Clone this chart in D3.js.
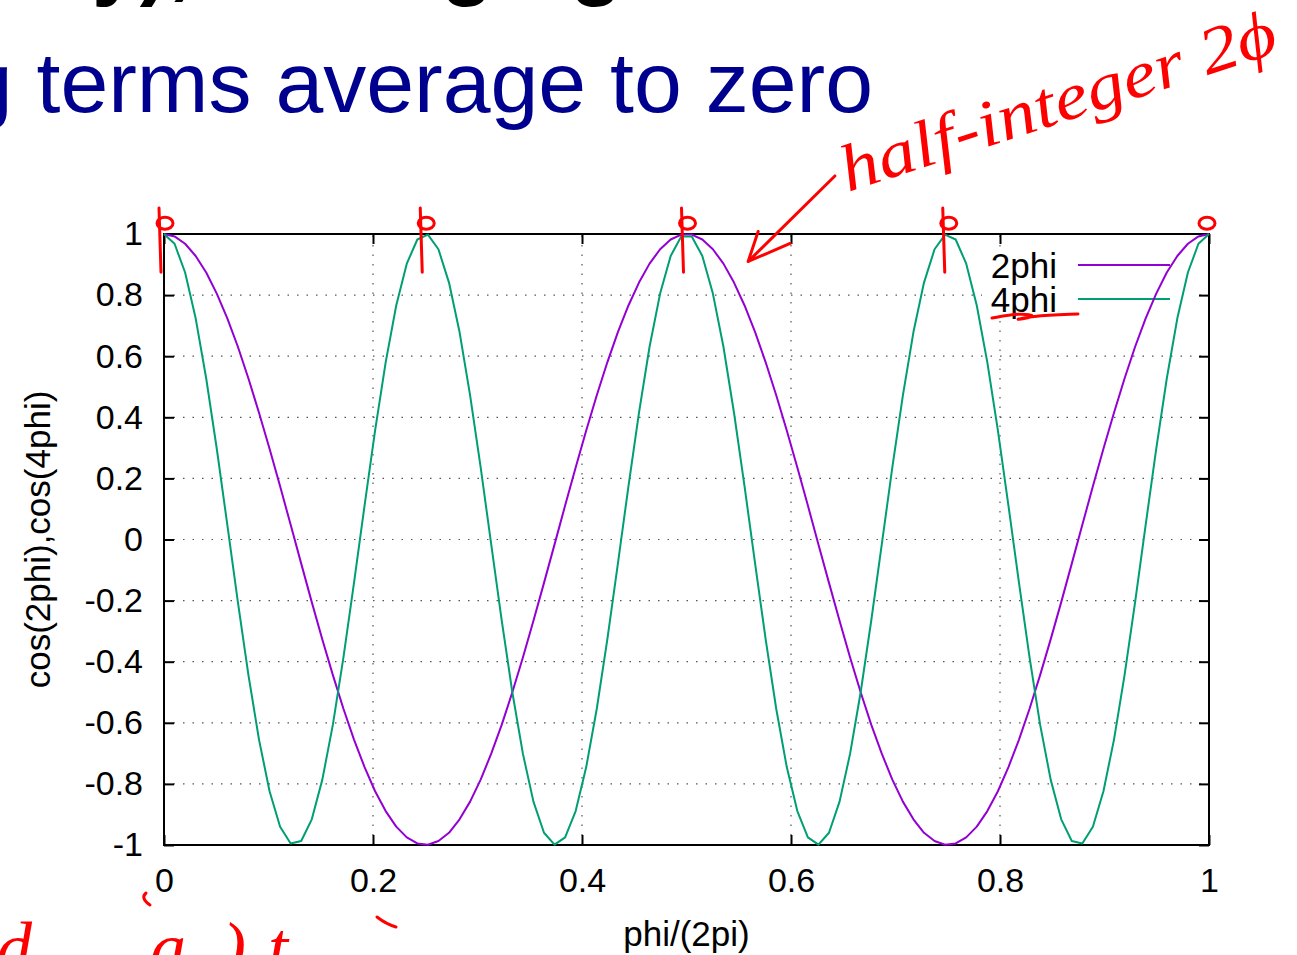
<!DOCTYPE html>
<html>
<head>
<meta charset="utf-8">
<script src="https://cdn.jsdelivr.net/npm/d3@7"></script>
<style>
  body { margin: 0; background: #fff; }
  svg { display: block; font-family: "Liberation Sans", Arial, Helvetica, sans-serif; }
</style>
</head>
<body>
<svg id="chart" width="1297" height="955"></svg>
<script>
// tick values
const xTicks = [0, 0.2, 0.4, 0.6, 0.8, 1];
const yTicks = [-1, -0.8, -0.6, -0.4, -0.2, 0, 0.2, 0.4, 0.6, 0.8, 1];

// gnuplot default sampling: 100 points over phi/(2pi) in [0,1]
const SAMPLES = 100;
const phiFrac = d3.range(SAMPLES).map(i => i / (SAMPLES - 1));

// cos(2phi)
const cos2phi = [
  1.000, 0.992, 0.968, 0.928, 0.874, 0.805, 0.724, 0.631, 0.527, 0.415,
  0.297, 0.174, 0.048, -0.079, -0.205, -0.327, -0.444, -0.554, -0.655, -0.745,
  -0.824, -0.889, -0.940, -0.975, -0.995, -0.999, -0.987, -0.960, -0.916, -0.858,
  -0.786, -0.701, -0.606, -0.500, -0.386, -0.266, -0.142, -0.016, 0.111, 0.236,
  0.357, 0.472, 0.580, 0.679, 0.766, 0.841, 0.903, 0.950, 0.982, 0.998,
  0.998, 0.982, 0.950, 0.903, 0.841, 0.766, 0.679, 0.580, 0.472, 0.357,
  0.236, 0.111, -0.016, -0.142, -0.266, -0.386, -0.500, -0.606, -0.701, -0.786,
  -0.858, -0.916, -0.960, -0.987, -0.999, -0.995, -0.975, -0.940, -0.889, -0.824,
  -0.745, -0.655, -0.554, -0.444, -0.327, -0.205, -0.079, 0.048, 0.174, 0.297,
  0.415, 0.527, 0.631, 0.724, 0.805, 0.874, 0.928, 0.968, 0.992, 1.000
];

// cos(4phi)
const cos4phi = [
  1.000, 0.968, 0.874, 0.724, 0.527, 0.297, 0.048, -0.205, -0.444, -0.655,
  -0.824, -0.940, -0.995, -0.987, -0.916, -0.786, -0.606, -0.386, -0.142, 0.111,
  0.357, 0.580, 0.766, 0.903, 0.982, 0.998, 0.950, 0.841, 0.679, 0.472,
  0.236, -0.016, -0.266, -0.500, -0.701, -0.858, -0.960, -0.999, -0.975, -0.889,
  -0.745, -0.554, -0.327, -0.079, 0.174, 0.415, 0.631, 0.805, 0.928, 0.992,
  0.992, 0.928, 0.805, 0.631, 0.415, 0.174, -0.079, -0.327, -0.554, -0.745,
  -0.889, -0.975, -0.999, -0.960, -0.858, -0.701, -0.500, -0.266, -0.016, 0.236,
  0.472, 0.679, 0.841, 0.950, 0.998, 0.982, 0.903, 0.766, 0.580, 0.357,
  0.111, -0.142, -0.386, -0.606, -0.786, -0.916, -0.987, -0.995, -0.940, -0.824,
  -0.655, -0.444, -0.205, 0.048, 0.297, 0.527, 0.724, 0.874, 0.968, 1.000
];

const seriesNames = ["2phi", "4phi"];
const seriesColors = ["#9400d3", "#009e73"];

// hand annotations (data units)
const peakMarks = [0, 0.25, 0.5, 0.75, 1];
const arrowFrom = [0.642, 1.19];
const arrowTo = [0.559, 0.91];

const svg = d3.select("#chart");
const plotLeft = 164, plotRight = 1209, plotTop = 234, plotBottom = 845;

const x = d3.scaleLinear().domain([0, 1]).range([plotLeft, plotRight]);
const y = d3.scaleLinear().domain([-1, 1]).range([plotBottom, plotTop]);

// slide text (clipped at the top of the screenshot)
svg.append("text")
  .attr("x", 92).attr("y", -11)
  .attr("font-size", 86).attr("font-weight", "bold")
  .attr("fill", "#000")
  .text("y), averaging");

svg.append("text")
  .attr("x", 873).attr("y", 112)
  .attr("text-anchor", "end")
  .attr("font-size", 86)
  .attr("fill", "#00008f")
  .text("g terms average to zero");

// grid
const grid = svg.append("g")
  .attr("stroke", "#555")
  .attr("stroke-width", 1.2)
  .attr("stroke-dasharray", "1.5,8");
grid.selectAll(".gx")
  .data(xTicks.slice(1, -1))
  .join("line")
  .attr("class", "gx")
  .attr("x1", d => x(d)).attr("x2", d => x(d))
  .attr("y1", plotBottom).attr("y2", plotTop);
grid.selectAll(".gy")
  .data(yTicks.slice(1, -1))
  .join("line")
  .attr("class", "gy")
  .attr("y1", d => y(d)).attr("y2", d => y(d))
  .attr("x1", plotLeft).attr("x2", plotRight);

// axes, ticks on all four sides pointing inward
function styleAxis(g) {
  g.select(".domain").remove();
  g.selectAll(".tick line").attr("stroke", "#000").attr("stroke-width", 2);
  g.selectAll(".tick text")
    .attr("fill", "#000")
    .attr("font-size", 34)
    .attr("font-family", "Liberation Sans, Arial, sans-serif");
}

svg.append("g")
  .attr("transform", `translate(0,${plotBottom})`)
  .call(d3.axisBottom(x).tickValues(xTicks).tickSize(-10).tickPadding(23).tickFormat(d => String(d)))
  .call(styleAxis);

svg.append("g")
  .attr("transform", `translate(${plotLeft},0)`)
  .call(d3.axisLeft(y).tickValues(yTicks).tickSize(-10).tickPadding(21).tickFormat(d => String(d)))
  .call(styleAxis);

svg.append("g")
  .attr("transform", `translate(0,${plotTop})`)
  .call(d3.axisTop(x).tickValues(xTicks).tickSize(-10).tickFormat(""))
  .call(styleAxis);

svg.append("g")
  .attr("transform", `translate(${plotRight},0)`)
  .call(d3.axisRight(y).tickValues(yTicks).tickSize(-10).tickFormat(""))
  .call(styleAxis);

// border
svg.append("rect")
  .attr("x", plotLeft).attr("y", plotTop)
  .attr("width", plotRight - plotLeft).attr("height", plotBottom - plotTop)
  .attr("fill", "none")
  .attr("stroke", "#000")
  .attr("stroke-width", 2);

// key (covers the grid behind it)
const key = svg.append("g");
key.append("rect")
  .attr("x", 982).attr("y", 249)
  .attr("width", 213).attr("height", 72)
  .attr("fill", "#fff");
seriesNames.forEach((name, i) => {
  const ky = 266 + i * 34;
  key.append("text")
    .attr("x", 1057).attr("y", ky + 12)
    .attr("text-anchor", "end")
    .attr("font-size", 35)
    .text(name);
  key.append("line")
    .attr("x1", 1078).attr("x2", 1170)
    .attr("y1", ky - 1).attr("y2", ky - 1)
    .attr("stroke", seriesColors[i])
    .attr("stroke-width", 2);
});

// curves
const line = d3.line()
  .x((d, i) => x(phiFrac[i]))
  .y(d => y(d));

svg.selectAll(".curve")
  .data([cos2phi, cos4phi])
  .join("path")
  .attr("class", "curve")
  .attr("d", line)
  .attr("fill", "none")
  .attr("stroke", (d, i) => seriesColors[i])
  .attr("stroke-width", 2)
  .attr("stroke-linejoin", "round");

// axis titles
svg.append("text")
  .attr("x", (plotLeft + plotRight) / 2).attr("y", 946)
  .attr("text-anchor", "middle")
  .attr("font-size", 35)
  .text("phi/(2pi)");

svg.append("text")
  .attr("transform", `translate(50,${(plotTop + plotBottom) / 2}) rotate(-90)`)
  .attr("text-anchor", "middle")
  .attr("font-size", 35)
  .text("cos(2phi),cos(4phi)");

// red pen annotations
const pen = svg.append("g")
  .attr("stroke", "#ff0000")
  .attr("fill", "none")
  .attr("stroke-width", 3)
  .attr("stroke-linecap", "round");

pen.selectAll(".peakStroke")
  .data(peakMarks.slice(0, -1))
  .join("line")
  .attr("class", "peakStroke")
  .attr("x1", d => x(d) - 5).attr("x2", d => x(d) - 3)
  .attr("y1", y(1.085)).attr("y2", y(0.875));

pen.selectAll(".peakLoop")
  .data(peakMarks)
  .join("ellipse")
  .attr("class", "peakLoop")
  .attr("cx", d => x(d) + (d === 1 ? -2 : 1))
  .attr("cy", y(1.035))
  .attr("rx", 8).attr("ry", 6);

pen.append("path")
  .attr("d", d3.line()([
    [x(arrowFrom[0]), y(arrowFrom[1])],
    [x(arrowTo[0]), y(arrowTo[1])],
    [x(arrowTo[0]) + 42, y(arrowTo[1]) - 18]
  ]));
pen.append("path")
  .attr("d", d3.line()([
    [x(arrowTo[0]), y(arrowTo[1])],
    [x(arrowTo[0]) + 10, y(arrowTo[1]) - 30]
  ]));

svg.append("text")
  .attr("transform", "translate(848,192) rotate(-18)")
  .attr("font-family", "Liberation Serif, serif")
  .attr("font-style", "italic")
  .attr("font-size", 66)
  .attr("fill", "#ff0000")
  .attr("textLength", 455)
  .attr("lengthAdjust", "spacingAndGlyphs")
  .text("half-integer 2ϕ");

// underline under "4phi" in the key
pen.append("path")
  .attr("d", d3.line().curve(d3.curveBasis)([
    [992, 318], [1020, 313], [1040, 316], [1010, 321], [1030, 316], [1078, 314]
  ]));

// partial handwriting at the bottom edge
const scrawl = [["d", -4], ["a", 150], [")", 222], ["t", 268]];
svg.selectAll(".scrawl")
  .data(scrawl)
  .join("text")
  .attr("class", "scrawl")
  .attr("x", d => d[1]).attr("y", 972)
  .attr("font-family", "Liberation Serif, serif")
  .attr("font-style", "italic")
  .attr("font-size", 72)
  .attr("fill", "#ff0000")
  .text(d => d[0]);
pen.append("path").attr("d", "M146,893 Q140,898 150,905");
pen.append("path").attr("d", "M377,917 Q386,924 396,927");
</script>
</body>
</html>
